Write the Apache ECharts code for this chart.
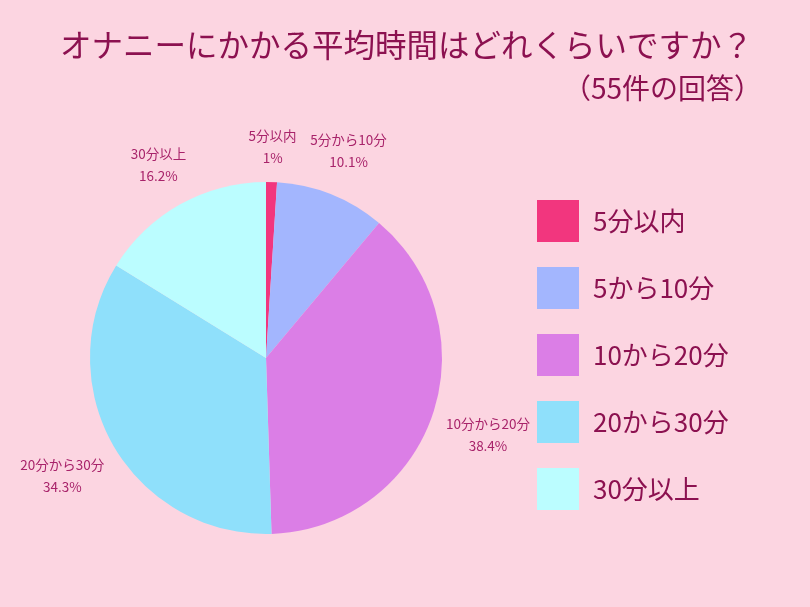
<!DOCTYPE html>
<html><head><meta charset="utf-8">
<script src="https://cdn.jsdelivr.net/npm/echarts@6/dist/echarts.min.js"></script>
<style>html,body{margin:0;padding:0;background:#fcd5e1;}#c{width:810px;height:607px;}</style>
</head><body><div id="c"></div>
<script>
const categories = ['5分以内', '5から10分', '10から20分', '20から30分', '30分以上'];
const labelNames = ['5分以内', '5分から10分', '10分から20分', '20分から30分', '30分以上'];
const values = [1, 10.1, 38.4, 34.3, 16.2];
const colors = ['#f2367e', '#a3b6fe', '#db7ee6', '#8fe0fb', '#bbfdff'];
const titleText = 'オナニーにかかる平均時間はどれくらいですか？';
const subtitleText = '（55件の回答）';

const chart = echarts.init(document.getElementById('c'), null, {renderer: 'canvas'});
const CX = 266, CY = 358, R = 176;
const total = values.reduce((a, b) => a + b, 0);
function midAngle(i) {
  let s = 0;
  for (let k = 0; k < i; k++) s += values[k];
  const mid = s + values[i] / 2;
  return (90 - mid / total * 360) * Math.PI / 180;
}
const fontFam = '"Noto Sans CJK JP", "Noto Sans", sans-serif';
chart.setOption({
  backgroundColor: '#fcd5e1',
  textStyle: {fontFamily: fontFam},
  graphic: [
    {type: 'text', left: 60, top: 29, style: {text: titleText, fontSize: 31.5, fontFamily: fontFam, fill: '#8c1150'}},
    {type: 'text', right: 48, top: 74, style: {text: subtitleText, fontSize: 28, fontFamily: fontFam, fill: '#8c1150'}}
  ],
  legend: {
    orient: 'vertical', left: 532, top: 195,
    itemWidth: 42, itemHeight: 42, itemGap: 25, icon: 'rect',
    data: categories,
    textStyle: {fontSize: 26, color: '#8c1150', fontFamily: fontFam, padding: [0, 0, 0, 9]}
  },
  series: [{
    type: 'pie',
    center: [CX, CY], radius: R,
    startAngle: 90, clockwise: true,
    avoidLabelOverlap: false,
    color: colors,
    data: categories.map((n, i) => ({name: n, value: values[i]})),
    label: {
      show: true, position: 'outside',
      formatter: p => labelNames[p.dataIndex] + '\n' + values[p.dataIndex] + '%',
      fontSize: 13.5, lineHeight: 22, color: '#a8236a', align: 'center', fontFamily: fontFam
    },
    labelLine: {show: false},
    labelLayout: function (p) {
      const a = midAngle(p.dataIndex);
      const w = p.labelRect.width / 2, h = p.labelRect.height / 2;
      const c = Math.cos(a), s = Math.sin(a);
      const d = R + 12 + w * Math.abs(c) + h * Math.abs(s);
      return {x: CX + d * c, y: CY - d * s, align: 'center', verticalAlign: 'middle'};
    },
    itemStyle: {borderWidth: 0},
    emphasis: {disabled: true}
  }]
});
</script></body></html>
